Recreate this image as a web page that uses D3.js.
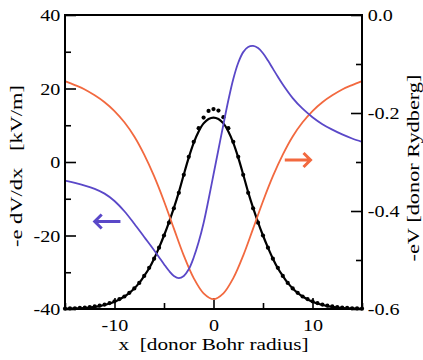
<!DOCTYPE html>
<html>
<head>
<meta charset="utf-8">
<script src="https://cdn.jsdelivr.net/npm/d3@7"></script>
<style>
  body { margin: 0; background: #fff; }
  svg { display: block; }
  text { font-family: "Liberation Serif", "Times New Roman", serif; }
</style>
</head>
<body>
<div id="chart"></div>
<script>
// x grid (donor Bohr radius) for the density curve and the dots
const gridX = [-15, -14.5, -14, -13.5, -13, -12.5, -12, -11.5, -11, -10.5, -10, -9.5, -9, -8.5, -8, -7.5, -7, -6.5, -6, -5.5, -5, -4.5, -4, -3.5, -3, -2.5, -2, -1.5, -1, -0.5,
  0, 0.5, 1, 1.5, 2, 2.5, 3, 3.5, 4, 4.5, 5, 5.5, 6, 6.5, 7, 7.5, 8, 8.5, 9, 9.5, 10, 10.5, 11, 11.5, 12, 12.5, 13, 13.5, 14, 14.5, 15];

// black solid line (left axis units)
const densityLine = [-39.95, -39.9, -39.85, -39.8, -39.7, -39.6, -39.4, -39.2, -38.9, -38.5, -38.0, -37.4, -36.6, -35.6, -34.4, -32.9, -31.0, -28.9, -26.3, -23.3, -20.0, -16.4, -12.5, -8.2, -3.4, 1.2, 5.2, 8.3, 10.5, 11.7,
  12.1, 11.7, 10.5, 8.3, 5.2, 1.2, -3.4, -8.2, -12.5, -16.4, -20.0, -23.3, -26.3, -28.9, -31.0, -32.9, -34.4, -35.6, -36.6, -37.4, -38.0, -38.5, -38.9, -39.2, -39.4, -39.6, -39.7, -39.8, -39.85, -39.9, -39.95];

// black dots (left axis units)
const densityDots = [-39.9, -39.85, -39.8, -39.7, -39.6, -39.5, -39.3, -39.1, -38.8, -38.4, -37.9, -37.3, -36.6, -35.6, -34.4, -32.9, -31.0, -28.8, -26.3, -23.3, -20.0, -16.5, -12.6, -8.4, -3.5, 1.4, 5.5, 9.2, 12.1, 13.9,
  14.4, 14.0, 12.2, 9.2, 5.5, 1.4, -3.5, -8.4, -12.6, -16.5, -20.0, -23.3, -26.3, -28.8, -31.0, -32.9, -34.4, -35.6, -36.6, -37.3, -37.9, -38.4, -38.8, -39.1, -39.3, -39.5, -39.6, -39.7, -39.8, -39.85, -39.9];

// blue: field -e dV/dx [kV/m] (left axis)
const fieldX = [-15, -14, -13, -12, -11, -10, -9, -8, -7, -6, -5.5, -5, -4.5, -4, -3.5, -3, -2.5, -2, -1.5, -1, -0.5, 0, 0.5, 1, 1.5, 2, 2.5, 3, 3.5, 4, 4.5, 5, 5.5, 6, 6.5, 7, 8, 9, 10, 11, 12, 13, 14, 15];
const fieldY = [-5.1, -5.7, -6.4, -7.3, -8.6, -10.6, -13.4, -16.8, -20.4, -24.0, -25.9, -27.8, -29.6, -31.0, -31.6, -31.0, -29.2, -26.0, -21.8, -16.6, -10.2, -3.4, 3.4, 10.2, 16.8, 22.6, 27.0, 29.9, 31.3, 31.6, 31.0, 29.6, 27.6, 25.4, 23.2, 21.1, 17.4, 14.5, 12.2, 10.3, 8.8, 7.5, 6.4, 5.5];

// orange: potential -eV [donor Rydberg] (right axis)
const potX = [-15, -14, -13, -12, -11, -10, -9, -8, -7, -6, -5, -4, -3, -2, -1, 0, 1, 2, 3, 4, 5, 6, 7, 8, 9, 10, 11, 12, 13, 14, 15];
const potY = [-0.135, -0.143, -0.152, -0.164, -0.178, -0.196, -0.219, -0.248, -0.285, -0.329, -0.380, -0.436, -0.491, -0.537, -0.568, -0.580,
  -0.568, -0.537, -0.491, -0.436, -0.380, -0.329, -0.285, -0.248, -0.219, -0.196, -0.178, -0.164, -0.152, -0.143, -0.135];

const xTicks = [-10, 0, 10];
const xMinor = [-15, -5, 5, 15];
const leftTicks = [-40, -20, 0, 20, 40];
const leftMinor = [-30, -10, 10, 30];
const rightTicks = [-0.6, -0.4, -0.2, 0.0];
const rightMinor = [-0.5, -0.3, -0.1];

const width = 423, height = 360;
const margin = { top: 15, right: 61, bottom: 51, left: 65 };
const blue = '#5a48c8', orange = '#f2693f';

const svg = d3.select('#chart').append('svg')
  .attr('width', width).attr('height', height);

const x = d3.scaleLinear().domain([-15, 15]).range([margin.left, width - margin.right]);
const yL = d3.scaleLinear().domain([-40, 40]).range([height - margin.bottom, margin.top]);
const yR = d3.scaleLinear().domain([-0.6, 0]).range([height - margin.bottom, margin.top]);

const fontSize = 17.5, stretch = 1.15;

// axes, ticks pointing inward
function styleAxis(g) {
  g.select('.domain').remove();
  g.selectAll('line').attr('stroke', '#000').attr('stroke-width', 1.6);
  g.selectAll('text').attr('font-size', fontSize).attr('fill', '#000')
    .attr('font-family', '"Liberation Serif", serif');
}

svg.append('g').attr('transform', `translate(0,${yL.range()[0]})`)
  .call(d3.axisBottom(x).tickValues(xTicks).tickSize(-11).tickPadding(10).tickFormat(d => String(d)))
  .call(styleAxis)
  .call(g => g.selectAll('text').attr('transform', `scale(${stretch},1)`));
svg.append('g').attr('transform', `translate(0,${yL.range()[0]})`)
  .call(d3.axisBottom(x).tickValues(xMinor).tickSize(-6).tickFormat(''))
  .call(styleAxis);

svg.append('g').attr('transform', `translate(${margin.left},0)`)
  .call(d3.axisLeft(yL).tickValues(leftTicks).tickSize(-11).tickPadding(4).tickFormat(d => String(d)))
  .call(styleAxis)
  .call(g => g.selectAll('text').attr('transform', `scale(${stretch},1)`));
svg.append('g').attr('transform', `translate(${margin.left},0)`)
  .call(d3.axisLeft(yL).tickValues(leftMinor).tickSize(-6).tickFormat(''))
  .call(styleAxis);

svg.append('g').attr('transform', `translate(${width - margin.right},0)`)
  .call(d3.axisRight(yR).tickValues(rightTicks).tickSize(-11).tickPadding(5).tickFormat(d => d.toFixed(1)))
  .call(styleAxis)
  .call(g => g.selectAll('text').attr('transform', `scale(${stretch},1)`));
svg.append('g').attr('transform', `translate(${width - margin.right},0)`)
  .call(d3.axisRight(yR).tickValues(rightMinor).tickSize(-6).tickFormat(''))
  .call(styleAxis);

// curves
const smooth = d3.curveCatmullRom.alpha(0.5);
const lineL = d3.line().x(d => x(d[0])).y(d => yL(d[1])).curve(smooth);
const lineR = d3.line().x(d => x(d[0])).y(d => yR(d[1])).curve(smooth);

svg.append('path').datum(d3.zip(gridX, densityLine))
  .attr('d', lineL).attr('fill', 'none').attr('stroke', '#000').attr('stroke-width', 2.2);

svg.append('g').selectAll('circle').data(d3.zip(gridX, densityDots)).join('circle')
  .attr('cx', d => x(d[0])).attr('cy', d => yL(d[1])).attr('r', 2.1).attr('fill', '#000');

svg.append('path').datum(d3.zip(potX, potY))
  .attr('d', lineR).attr('fill', 'none').attr('stroke', orange).attr('stroke-width', 1.8);

svg.append('path').datum(d3.zip(fieldX, fieldY))
  .attr('d', lineL).attr('fill', 'none').attr('stroke', blue).attr('stroke-width', 1.8);

// arrows telling which axis goes with which curve
function arrow(x0, x1, yPix, color) {
  const a = x(x0), b = x(x1), dir = Math.sign(b - a);
  svg.append('path')
    .attr('d', `M${a},${yPix}H${b}M${b - dir * 7},${yPix - 7}L${b},${yPix}L${b - dir * 7},${yPix + 7}`)
    .attr('fill', 'none').attr('stroke', color).attr('stroke-width', 3);
}
arrow(-9.4, -12.0, yL(-16.2), blue);
arrow(7.2, 9.8, yR(-0.296), orange);

// frame
svg.append('rect')
  .attr('x', margin.left).attr('y', margin.top)
  .attr('width', x.range()[1] - x.range()[0]).attr('height', yL.range()[0] - yL.range()[1])
  .attr('fill', 'none').attr('stroke', '#000').attr('stroke-width', 2);

// axis titles
svg.append('text').attr('x', x(0)).attr('y', 350).attr('text-anchor', 'middle')
  .attr('font-size', fontSize).attr('textLength', 190).attr('lengthAdjust', 'spacingAndGlyphs')
  .text('x  [donor Bohr radius]').style('white-space', 'pre');

svg.append('text').attr('transform', `translate(22,166) rotate(-90)`).attr('text-anchor', 'middle')
  .attr('font-size', fontSize).attr('textLength', 162).attr('lengthAdjust', 'spacingAndGlyphs')
  .text('-e dV/dx   [kV/m]').style('white-space', 'pre');

svg.append('text').attr('transform', `translate(419,168) rotate(-90)`).attr('text-anchor', 'middle')
  .attr('font-size', fontSize).attr('textLength', 187).attr('lengthAdjust', 'spacingAndGlyphs')
  .text('-eV [donor Rydberg]');
</script>
</body>
</html>
